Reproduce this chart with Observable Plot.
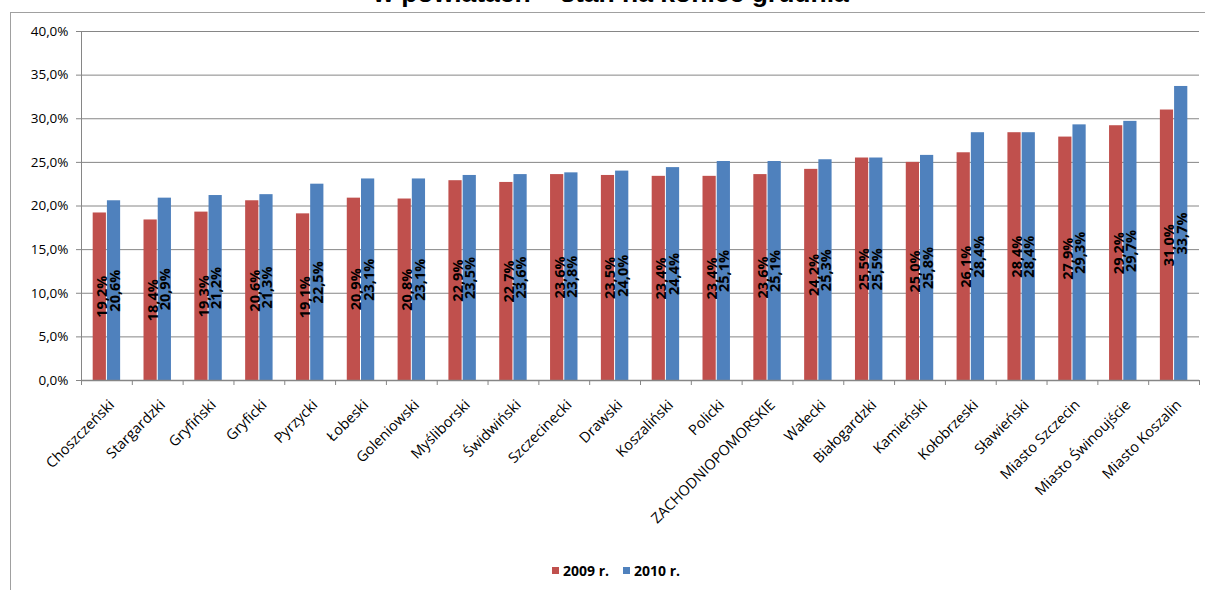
<!DOCTYPE html>
<html>
<head>
<meta charset="utf-8">
<script src="https://cdn.jsdelivr.net/npm/d3@7"></script>
<script src="https://cdn.jsdelivr.net/npm/@observablehq/plot@0.6"></script>
<style>
  html, body { margin: 0; padding: 0; background: #fff; overflow: hidden; }
  #wrap { position: relative; width: 1205px; height: 590px; overflow: hidden; }
  #title { position: absolute; left: 0; width: 1222px; top: -22px; text-align: center;
           font-family: "Liberation Sans", Arial, sans-serif; font-weight: bold; font-size: 26.5px; color: #000; white-space: pre; }
  #frame { position: absolute; left: 10px; top: 12px; width: 1300px; height: 700px; border-left: 1px solid #a0a0a0; border-top: 1px solid #a0a0a0; }
  #chart { position: absolute; left: 0; top: 0; }
  #legend { position: absolute; top: 561px; left: 552px; font-family: "Open Sans", sans-serif; font-weight: bold; font-size: 14px; color: #000; display: flex; align-items: center; white-space: nowrap; }
  #legend .sw { display: inline-block; width: 7px; height: 7px; margin-right: 4px; }
  #legend .item { display: flex; align-items: center; margin-right: 14px; }
</style>
</head>
<body>
<div id="wrap">
  <div id="frame"></div>
  <div id="title"></div>
  <div id="chart"></div>
  <div id="legend"></div>
</div>
<script>
const titleText = "w powiatach – stan na koniec grudnia";
const categories = ["Choszczeński", "Stargardzki", "Gryfiński", "Gryficki", "Pyrzycki", "Łobeski", "Goleniowski", "Myśliborski", "Świdwiński", "Szczecinecki", "Drawski", "Koszaliński", "Policki", "ZACHODNIOPOMORSKIE", "Wałecki", "Białogardzki", "Kamieński", "Kołobrzeski", "Sławieński", "Miasto Szczecin", "Miasto Świnoujście", "Miasto Koszalin"];
const values2009 = [19.2, 18.4, 19.3, 20.6, 19.1, 20.9, 20.8, 22.9, 22.7, 23.6, 23.5, 23.4, 23.4, 23.6, 24.2, 25.5, 25.0, 26.1, 28.4, 27.9, 29.2, 31.0];
const values2010 = [20.6, 20.9, 21.2, 21.3, 22.5, 23.1, 23.1, 23.5, 23.6, 23.8, 24.0, 24.4, 25.1, 25.1, 25.3, 25.5, 25.8, 28.4, 28.4, 29.3, 29.7, 33.7];
const seriesNames = ["2009 r.", "2010 r."];
const seriesColors = ["#C0504D", "#4F81BD"];
const yTicks = [0, 5, 10, 15, 20, 25, 30, 35, 40];

const fmt = v => v.toFixed(1).replace(".", ",") + "%";

const rows2009 = categories.map((c, i) => ({c, v: values2009[i]}));
const rows2010 = categories.map((c, i) => ({c, v: values2010[i]}));

const W = 1205, H = 545;
const mL = 81, mR = 6, mT = 31, mB = 165;
const padInner = 0.46;
const step = (W - mL - mR) / categories.length;
const bw = step * (1 - padInner);
const half = bw / 2 + 0.5;
const gray = "#868686";
const font = "'Open Sans', sans-serif";

document.getElementById("title").textContent = titleText;

const plot = Plot.plot({
  width: W, height: H,
  marginLeft: mL, marginRight: mR, marginTop: mT, marginBottom: mB,
  style: {fontFamily: font, fontSize: "14px", color: "#000", background: "transparent"},
  x: {domain: categories, paddingInner: padInner, paddingOuter: padInner / 2, round: false, label: null},
  y: {domain: [0, 40], label: null},
  marks: [
    Plot.gridY(yTicks.slice(1), {stroke: gray, strokeOpacity: 1}),
    Plot.barY(rows2009, {x: "c", y: "v", fill: seriesColors[0], insetRight: half}),
    Plot.barY(rows2010, {x: "c", y: "v", fill: seriesColors[1], insetLeft: half}),
    Plot.ruleY([0], {stroke: gray, strokeWidth: 1.5}),
    Plot.ruleX(categories, {x: d => d, y1: 0, y2: 0, insetBottom: -5, dx: step / 2, stroke: gray}),
    Plot.ruleX([categories[0]], {x: d => d, insetBottom: -5, dx: -step / 2, stroke: gray}),
    Plot.axisY({ticks: yTicks, tickFormat: fmt, tickSize: 5, tickPadding: 8, stroke: gray, color: "#000", fontSize: 13.5, label: null}),
    Plot.axisX({tickSize: 0, tickRotate: -45, tickPadding: 22, dx: 5, fontSize: 14.5, color: "#000", label: null}),
    Plot.text(rows2009, {x: "c", y: d => d.v / 2, text: d => fmt(d.v), rotate: -90, dx: -4.4, fontWeight: "bold", fontSize: 14.5, fill: "#000"}),
    Plot.text(rows2010, {x: "c", y: d => d.v / 2, text: d => fmt(d.v), rotate: -90, dx: 8.1, fontWeight: "bold", fontSize: 14.5, fill: "#000"})
  ]
});
document.getElementById("chart").appendChild(plot);

const legend = document.getElementById("legend");
seriesNames.forEach((name, i) => {
  const item = document.createElement("span");
  item.className = "item";
  const sw = document.createElement("span");
  sw.className = "sw";
  sw.style.background = seriesColors[i];
  item.appendChild(sw);
  item.appendChild(document.createTextNode(name));
  legend.appendChild(item);
});
</script>
</body>
</html>
